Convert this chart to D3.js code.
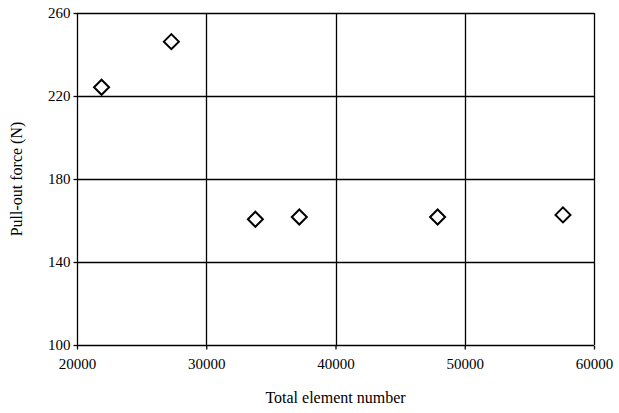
<!DOCTYPE html>
<html>
<head>
<meta charset="utf-8">
<script src="https://cdn.jsdelivr.net/npm/d3@7"></script>
<style>
  body { margin: 0; background: #fff; }
  svg text { font-family: "Liberation Serif", "Times New Roman", serif; fill: #000; }
</style>
</head>
<body>
<div id="chart"></div>
<script>
// data
var elementNumber = [21900, 27300, 33800, 37200, 47900, 57600];
var pullOutForce = [224.2, 246.2, 160.6, 161.7, 161.7, 162.7];
var xTicks = [20000, 30000, 40000, 50000, 60000];
var yTicks = [100, 140, 180, 220, 260];

var config = {
  width: 619,
  height: 413,
  left: 77,
  right: 594,
  top: 13,
  bottom: 345,
  diamond: 7.5
};

var svg = d3.select("#chart")
  .append("svg")
  .attr("width", config.width)
  .attr("height", config.height);

var xScale = d3.scaleLinear().domain([20000, 60000]).range([config.left, config.right]);
var yScale = d3.scaleLinear().domain([100, 260]).range([config.bottom, config.top]);

// gridlines
svg.append("g")
  .selectAll("line.vg")
  .data(xTicks)
  .enter()
  .append("line")
  .attr("x1", d => Math.round(xScale(d)) + 0.5)
  .attr("x2", d => Math.round(xScale(d)) + 0.5)
  .attr("y1", config.top)
  .attr("y2", config.bottom)
  .attr("stroke", "#000")
  .attr("stroke-width", 1.3);

svg.append("g")
  .selectAll("line.hg")
  .data(yTicks)
  .enter()
  .append("line")
  .attr("y1", d => Math.round(yScale(d)) + 0.5)
  .attr("y2", d => Math.round(yScale(d)) + 0.5)
  .attr("x1", config.left)
  .attr("x2", config.right)
  .attr("stroke", "#000")
  .attr("stroke-width", 1.3);

// axes
var xAxis = d3.axisBottom(xScale)
  .tickValues(xTicks)
  .tickFormat(d3.format("d"))
  .tickSizeInner(4)
  .tickSizeOuter(0)
  .tickPadding(9);

var yAxis = d3.axisLeft(yScale)
  .tickValues(yTicks)
  .tickFormat(d3.format("d"))
  .tickSizeInner(4)
  .tickSizeOuter(0)
  .tickPadding(3);

svg.append("g")
  .attr("transform", `translate(0, ${config.bottom + 0.5})`)
  .call(xAxis)
  .call(g => g.select(".domain").remove())
  .call(g => g.selectAll(".tick line").attr("stroke", "#000").attr("stroke-width", 1.3))
  .call(g => g.selectAll("text").style("font-size", "15px"));

svg.append("g")
  .attr("transform", `translate(${config.left + 0.5}, 0)`)
  .call(yAxis)
  .call(g => g.select(".domain").remove())
  .call(g => g.selectAll(".tick line").attr("stroke", "#000").attr("stroke-width", 1.3))
  .call(g => g.selectAll("text").style("font-size", "15px"));

// axis titles
svg.append("text")
  .attr("x", (config.left + config.right) / 2)
  .attr("y", 403)
  .attr("text-anchor", "middle")
  .style("font-size", "16px")
  .text("Total element number");

svg.append("text")
  .attr("transform", `translate(22, ${(config.top + config.bottom) / 2}) rotate(-90)`)
  .attr("text-anchor", "middle")
  .style("font-size", "16px")
  .text("Pull-out force (N)");

// diamond markers
var points = elementNumber.map((d, i) => ({ x: d, y: pullOutForce[i] }));
var s = config.diamond;

svg.append("g")
  .selectAll("path")
  .data(points)
  .enter()
  .append("path")
  .attr("transform", d => `translate(${xScale(d.x)}, ${yScale(d.y)})`)
  .attr("d", `M0,${-s}L${s},0L0,${s}L${-s},0Z`)
  .attr("fill", "#fff")
  .attr("stroke", "#000")
  .attr("stroke-width", 2);
</script>
</body>
</html>
